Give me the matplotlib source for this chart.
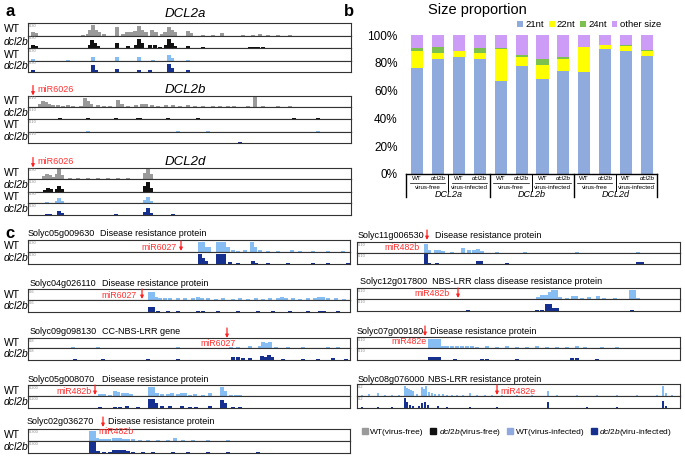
import matplotlib
matplotlib.use('Agg')
import matplotlib.pyplot as plt
from matplotlib.transforms import blended_transform_factory
from matplotlib.patches import Patch, FancyArrowPatch

plt.rcParams['font.family'] = ['Liberation Sans', 'DejaVu Sans']
plt.rcParams['mathtext.fontset'] = 'custom'
plt.rcParams['mathtext.it'] = 'Liberation Sans:italic'
plt.rcParams['mathtext.rm'] = 'Liberation Sans'

# ---------------- datos panel b (proporcion de tamanos, %) ----------------
genes = ['DCL2a', 'DCL2b', 'DCL2d']
genotipos = ['WT', 'dcl2b']
condiciones = ['virus-free', 'virus-infected']
nt21 = [76, 83, 84.5, 82.5, 67, 77.8, 68.7, 74.2, 73.7, 89.8, 88.7, 85]
nt22 = [12.8, 4.4, 3.8, 4.4, 22.7, 6.1, 9.5, 8.8, 17.4, 3, 3.4, 3.5]
nt24 = [2.1, 4.3, 0.4, 3.6, 0.8, 1.7, 4.8, 1.4, 0.4, 0.3, 0.5, 0.7]
otros = [100 - a - b - c for a, b, c in zip(nt21, nt22, nt24)]

# ---------------- datos panel a (cobertura: bin, altura relativa) ----------------
a2a_wt_vf = [(5, .3), (8, .2), (55, .1), (60, .15), (62, .5), (65, .9), (68, .5), (71, .3), (76, .15),
             (89, .7), (95, .15), (99, .3), (103, .35), (107, .4), (111, .85), (114, .5), (118, .35),
             (124, .45), (128, .3), (134, .15), (137, .35), (141, .7), (144, .5), (147, .3), (160, .4),
             (163, .2), (175, .1), (185, .1), (194, .2), (215, .08), (225, .1), (232, .12), (240, .1),
             (250, .08), (262, .1)]
a2a_dcl_vf = [(5, .3), (8, .15), (40, .05), (62, .3), (64, .7), (67, .45), (70, .2), (89, .4), (100, .15),
              (108, .3), (111, .8), (114, .4), (122, .3), (127, .3), (132, .1), (138, .3), (141, .8),
              (144, .45), (147, .2), (160, .2), (175, .08), (222, .1), (226, .12), (230, .1), (235, .08)]
a2a_wt_vi = [(5, .15), (40, .05), (65, .3), (89, .3), (111, .35), (125, .1), (141, .45), (144, .2), (160, .1)]
a2a_dcl_vi = [(5, .2), (65, .6), (68, .2), (89, .3), (111, .2), (122, .2), (141, .7), (144, .4), (160, .15)]

a2b_wt_vf = [(12, .3), (15, .6), (18, .45), (21, .3), (25, .2), (30, .2), (35, .15), (40, .2), (45, .15),
             (53, .15), (57, .8), (60, .6), (63, .3), (70, .2), (76, .15), (82, .15), (90, .7), (94, .3),
             (100, .15), (108, .2), (114, .3), (118, .3), (124, .2), (130, .15), (138, .2), (145, .25),
             (152, .15), (160, .2), (167, .15), (175, .1), (185, .15), (192, .1), (200, .15), (206, .1),
             (220, .1), (227, .9), (235, .08), (250, .08), (262, .1), (275, .07)]
a2b_dcl_vf = [(32, .1), (60, .1), (88, .08), (110, .1), (112, .15), (140, .08), (170, .08), (266, .15),
              (290, .08), (300, .06)]
a2b_wt_vi = [(60, .05), (150, .05), (180, .04), (290, .05)]
a2b_dcl_vi = [(30, .05), (120, .05), (180, .05), (212, .1), (220, .05)]

a2d_wt_vf = [(16, .3), (19, .45), (22, .4), (25, .2), (29, .5), (31, .9), (34, .4), (42, .1), (50, .1),
             (60, .08), (70, .1), (80, .12), (90, .08), (100, .1), (110, .07), (117, .6), (120, .95),
             (123, .5), (130, .06), (150, .06), (170, .06)]
a2d_dcl_vf = [(17, .15), (20, .3), (23, .2), (29, .2), (31, .5), (34, .2), (117, .5), (120, .8), (123, .3)]
a2d_wt_vi = [(19, .1), (29, .2), (31, .5), (34, .2), (117, .3), (120, .6), (123, .2)]
a2d_dcl_vi = [(19, .1), (22, .08), (31, .4), (34, .2), (88, .1), (117, .3), (120, .6), (123, .2), (145, .08)]

# ---------------- datos panel c ----------------
c1_wt = [(172, .9), (175, .9), (178, .4), (181, .4), (190, .9), (193, .9), (196, .9), (200, .4), (205, .15),
         (210, .1), (217, .2), (224, .9), (227, .4), (232, .15), (240, .1), (250, .1), (264, .2), (272, .1),
         (285, .1), (300, .08), (315, .08)]
c1_dcl = [(172, .9), (175, .5), (178, .25), (190, .9), (193, .9), (196, .9), (202, .15), (210, .08),
          (225, .25), (228, .1), (240, .08), (260, .08), (285, .08), (300, .06), (320, .06)]
c2_wt = [(122, .8), (125, .8), (128, .25), (132, .2), (137, .2), (142, .15), (150, .15), (157, .15),
         (165, .2), (170, .25), (174, .2), (180, .15), (188, .12), (195, .15), (205, .12), (212, .15),
         (220, .12), (228, .15), (235, .12), (242, .15), (250, .2), (254, .25), (258, .2), (265, .15),
         (272, .12), (280, .15), (287, .2), (291, .25), (295, .25), (300, .2), (308, .15), (316, .12)]
c2_dcl = [(122, .4), (125, .4), (130, .1), (140, .1), (150, .08), (170, .12), (175, .1), (190, .1),
          (210, .12), (230, .08), (245, .12), (262, .1), (280, .08), (292, .12), (296, .12), (310, .08)]
c3_wt = [(45, .12), (70, .08), (150, .08), (203, .15), (210, .15), (222, .2), (232, .2), (235, .6),
         (238, .5), (242, .6), (248, .15), (260, .1), (275, .08), (300, .1), (310, .08)]
c3_dcl = [(47, .08), (75, .06), (120, .06), (150, .08), (205, .25), (210, .25), (215, .2), (222, .2),
          (234, .35), (237, .3), (241, .4), (244, .3), (255, .1), (275, .1), (290, .08), (305, .2), (318, .08)]
c4_wt = [(72, .15), (76, .2), (82, .1), (87, .5), (90, .4), (95, .25), (99, .3), (103, .2), (122, .9),
         (125, .9), (129, .3), (134, .15), (140, .2), (144, .25), (150, .15), (154, .3), (157, .3),
         (162, .12), (167, .15), (175, .1), (182, .25), (194, .9), (197, .5), (203, .1), (208, .1), (212, .1)]
c4_dcl = [(72, .12), (87, .12), (92, .12), (99, .15), (110, .1), (122, .8), (125, .8), (128, .4), (134, .15),
          (142, .15), (154, .2), (162, .1), (168, .12), (182, .2), (194, .7), (197, .4), (205, .1), (212, .08)]
c5_wt = [(63, .9), (66, .9), (69, .3), (73, .2), (77, .2), (81, .15), (86, .25), (89, .3), (92, .3),
         (96, .2), (100, .15), (105, .15), (112, .12), (120, .1), (130, .1), (140, .12), (147, .3),
         (155, .1), (165, .08), (180, .08), (200, .08)]
c5_dcl = [(63, .95), (66, .95), (70, .15), (76, .1), (82, .12), (86, .25), (89, .3), (92, .3), (96, .25),
          (100, .15), (105, .12), (115, .1), (125, .08), (145, .1), (160, .08), (180, .08), (200, .06), (230, .06)]
c6_wt = [(69, .9), (72, .3), (79, .3), (82, .3), (86, .2), (95, .1), (106, .5), (112, .3), (117, .3),
         (121, .35), (125, .2), (140, .1), (168, .1), (220, .05), (281, .05)]
c6_dcl = [(69, 1.0), (72, .1), (80, .1), (121, .3), (124, .3), (150, .05), (281, .15), (285, .15)]
c7_wt = [(181, .2), (185, .35), (189, .4), (193, .7), (196, .9), (199, .9), (203, .2), (210, .1), (216, .3),
         (219, .3), (225, .1), (232, .15), (241, .3), (247, .1), (258, .1), (274, .9), (277, .9), (281, .1)]
c7_dcl = [(111, .1), (180, .1), (185, .12), (190, .6), (193, .6), (196, .3), (200, .3), (275, .1)]
c8_wt = [(73, .9), (76, .9), (79, .9), (82, .9), (86, .2), (90, .2), (95, .15), (100, .2), (105, .15),
         (110, .2), (115, .15), (120, .12), (130, .15), (140, .12), (150, .15), (160, .12), (170, .1),
         (180, .15), (190, .12), (200, .1), (210, .12), (220, .15), (228, .12), (245, .08), (260, .08)]
c8_dcl = [(73, .3), (76, .3), (79, .3), (82, .25), (98, .1), (125, .08), (130, .1), (160, .08), (215, .15),
          (220, .15), (240, .06)]
c9_wt = [(5, .1), (12, .15), (21, .25), (28, .1), (35, .1), (42, .1), (48, .9), (50, .7), (52, .6), (54, .5),
         (56, .4), (60, .2), (65, .8), (67, .6), (69, .9), (72, .35), (75, .3), (78, .15), (82, .2), (86, .2),
         (90, .12), (95, .1), (100, .12), (106, .1), (113, .3), (120, .1), (128, .12), (135, .1), (145, .08),
         (160, .1), (175, .08), (191, .4), (200, .06), (220, .06), (240, .06), (260, .06), (280, .06),
         (300, .1), (306, .9), (309, .3), (315, .08)]
c9_dcl = [(5, .05), (21, .08), (35, .06), (48, .9), (50, .5), (53, .3), (56, .2), (62, .2), (65, .4), (68, .5),
          (71, .3), (81, .2), (90, .08), (113, .1), (140, .06), (191, .5), (230, .05), (260, .05), (306, .6),
          (309, .2)]

gris, negro, celeste, azul = '#9a9a9a', '#111111', '#86bdf2', '#16308f'
W, H = 685, 458
fig = plt.figure(figsize=(W / 100, H / 100), dpi=100)


def caja(x0, y0, x1, y1):
    return fig.add_axes([x0 / W, 1 - y1 / H, (x1 - x0) / W, (y1 - y0) / H])


def texto(x, y, s, **kw):
    kw.setdefault('va', 'center')
    fig.text(x / W, 1 - y / H, s, **kw)


def pista(x0, y0, x1, y1, picos, color, escala, ancho=3.6):
    ax = caja(x0, y0, x1, y1)
    ax.bar([p for p, h in picos], [h for p, h in picos], width=ancho, color=color, linewidth=0)
    ax.set_xlim(0, x1 - x0)
    ax.set_ylim(0, 1.05)
    ax.set_xticks([])
    ax.set_yticks([])
    for s in ax.spines.values():
        s.set_linewidth(0.8)
        s.set_color('#333333')
    ax.text(0.004, 0.95, escala, transform=ax.transAxes, fontsize=2.8, color='#888888', va='top')
    return ax


def flecha(x, y, largo=10):
    fig.add_artist(FancyArrowPatch((x / W, 1 - (y - largo / 2) / H), (x / W, 1 - (y + largo / 2) / H),
                                   transform=fig.transFigure, arrowstyle='-|>', mutation_scale=4.5,
                                   color='#ff2020', lw=0.9, shrinkA=0, shrinkB=0))


# ---------------- panel a ----------------
texto(5, 12, 'a', fontsize=12, fontweight='bold')
bloques_a = [
    ('DCL2a', [23.3, 35.7, 48.3, 60.7, 71.7], [a2a_wt_vf, a2a_dcl_vf, a2a_wt_vi, a2a_dcl_vi], '0-30', 14),
    ('DCL2b', [95.7, 107.3, 119.3, 131.7, 143.3], [a2b_wt_vf, a2b_dcl_vf, a2b_wt_vi, a2b_dcl_vi], '0-10', 90),
    ('DCL2d', [167.7, 179.3, 191.7, 203.3, 215], [a2d_wt_vf, a2d_dcl_vf, a2d_wt_vi, a2d_dcl_vi], '0-30', 162),
]
colores = [gris, negro, celeste, azul]
for nombre, filas, datos, esc, yt in bloques_a:
    texto(185, yt, nombre, fontsize=9.5, style='italic', ha='center')
    for k in range(4):
        pista(28, filas[k], 351, filas[k + 1], datos[k], colores[k], esc)
        texto(4, (filas[k] + filas[k + 1]) / 2, genotipos[k % 2], fontsize=7.5,
              style='italic' if k % 2 else 'normal')
    if nombre != 'DCL2a':
        flecha(33, yt + 0.5)
        texto(37, yt, 'miR6026', fontsize=6.5, color='#ff3030')

# ---------------- panel b ----------------
texto(344, 12, 'b', fontsize=12, fontweight='bold')
texto(477, 10, 'Size proportion', fontsize=10.5, ha='center')
axb = caja(406, 35, 657, 174)
x = list(range(len(nt21)))
c21, c22, c24, cot = '#8faadc', '#ffff00', '#7cc150', '#cc9cf7'
ancho = 0.58
axb.bar(x, nt21, ancho, color=c21, label='21nt')
fondo = nt21
axb.bar(x, nt22, ancho, bottom=fondo, color=c22, label='22nt')
fondo = [a + b for a, b in zip(fondo, nt22)]
axb.bar(x, nt24, ancho, bottom=fondo, color=c24, label='24nt')
fondo = [a + b for a, b in zip(fondo, nt24)]
axb.bar(x, otros, ancho, bottom=fondo, color=cot, label='other size')
axb.set_xlim(-0.53, 11.48)
axb.set_ylim(0, 100)
axb.set_yticks(range(0, 101, 20))
axb.set_yticklabels([f'{v}%' for v in range(0, 101, 20)], fontsize=8.5)
axb.tick_params(axis='y', length=0, pad=6)
axb.set_xticks([])
for s in ['top', 'right', 'left']:
    axb.spines[s].set_visible(False)
axb.spines['bottom'].set_linewidth(1.0)
tr = blended_transform_factory(axb.transData, axb.transAxes)
for i in x:
    axb.text(i, -0.035, genotipos[i % 2], transform=tr, fontsize=4.5, ha='center', va='center',
             style='italic' if i % 2 else 'normal')
for k in range(6):
    axb.plot([2 * k - 0.35, 2 * k + 1.35], [-0.062, -0.062], transform=tr, clip_on=False, color='k', lw=0.5)
    axb.text(2 * k + 0.5, -0.094, condiciones[k % 2], transform=tr, fontsize=4.5, ha='center', va='center')
for g in range(3):
    axb.text(4 * g + 1.5, -0.148, genes[g], transform=tr, fontsize=6.5, style='italic', ha='center', va='center')
for xs in [-0.53, 3.5, 7.5, 11.48]:
    axb.plot([xs, xs], [0, -0.165], transform=tr, clip_on=False, color='k', lw=1.0)
for xs in [1.5, 5.5, 9.5]:
    axb.plot([xs, xs], [0, -0.12], transform=tr, clip_on=False, color='k', lw=0.7)
axb.legend(loc='center', bbox_to_anchor=(0.73, 1.075), ncol=4, frameon=False, fontsize=6.8,
           handlelength=0.6, handleheight=0.6, handletextpad=0.25, columnspacing=0.5)

# ---------------- panel c ----------------
texto(5, 233, 'c', fontsize=12, fontweight='bold')
pistas_c = [
    (28, 350, [240, 252, 264], c1_wt, c1_dcl, '0-30', 3.6),
    (28, 350, [289, 300, 312], c2_wt, c2_dcl, '0-6', 3.6),
    (28, 350, [338, 348, 360], c3_wt, c3_dcl, '0-8', 3.6),
    (28, 350, [385, 396, 408], c4_wt, c4_dcl, '0-200', 3.6),
    (28, 350, [429, 441, 453], c5_wt, c5_dcl, '0-300', 3.6),
    (357, 680, [242, 253, 264], c6_wt, c6_dcl, '0-10', 3.6),
    (357, 680, [288, 299, 311], c7_wt, c7_dcl, '0-10', 3.6),
    (357, 680, [337, 348, 360], c8_wt, c8_dcl, '0-10', 3.6),
    (357, 680, [384, 396, 408], c9_wt, c9_dcl, '0-2', 2.0),
]
for x0, x1, filas, wt, dcl, esc, bw in pistas_c:
    pista(x0, filas[0], x1, filas[1], wt, celeste, esc, bw)
    pista(x0, filas[1], x1, filas[2], dcl, azul, esc, bw)
    if x0 < 100:
        texto(4, (filas[0] + filas[1]) / 2, 'WT', fontsize=7.5)
        texto(4, (filas[1] + filas[2]) / 2, 'dcl2b', fontsize=7.5, style='italic')

ft = 6.5
rojo = '#ff3030'
# columna izquierda
texto(28, 233, 'Solyc05g009630', fontsize=ft)
texto(100, 233, 'Disease resistance protein', fontsize=ft)
texto(177, 247, 'miR6027', fontsize=6.3, color=rojo, ha='right')
flecha(181, 246)
texto(30, 283, 'Solyc04g026110', fontsize=ft)
texto(102, 283, 'Disease resistance protein', fontsize=ft)
texto(137, 295, 'miR6027', fontsize=6.3, color=rojo, ha='right')
flecha(142, 294)
texto(30, 331, 'Solyc09g098130', fontsize=ft)
texto(102, 331, 'CC-NBS-LRR gene', fontsize=ft)
flecha(227, 333)
texto(218, 343, 'miR6027', fontsize=6.3, color=rojo, ha='center')
texto(28, 379, 'Solyc05g008070', fontsize=ft)
texto(102, 379, 'Disease resistance protein', fontsize=ft)
texto(92, 391, 'miR482b', fontsize=6.3, color=rojo, ha='right')
flecha(95, 390)
texto(27, 422, 'Solyc02g036270', fontsize=ft)
flecha(103, 422)
texto(108, 422, 'Disease resistance protein', fontsize=ft)
texto(98, 432, 'miR482b', fontsize=6.3, color=rojo)
# columna derecha
texto(358, 235, 'Solyc11g006530', fontsize=ft)
flecha(427, 235)
texto(435, 235, 'Disease resistance protein', fontsize=ft)
texto(420, 247, 'miR482b', fontsize=6.3, color=rojo, ha='right')
texto(360, 282, 'Solyc12g017800  NBS-LRR class disease resistance protein', fontsize=ft)
texto(450, 294, 'miR482b', fontsize=6.3, color=rojo, ha='right')
flecha(458, 293)
texto(357, 331, 'Solyc07g009180', fontsize=ft)
flecha(425, 331)
texto(430, 331, 'Disease resistance protein', fontsize=ft)
texto(427, 342, 'miR482e', fontsize=6.3, color=rojo, ha='right')
texto(358, 379, 'Solyc08g076000', fontsize=ft)
texto(428, 379, 'NBS-LRR resistance protein', fontsize=ft)
flecha(497, 390)
texto(500, 391, 'miR482e', fontsize=6.3, color=rojo)

etiquetas = ['WT(virus-free)', r'$\it{dcl2b}$(virus-free)', 'WT(virus-infected)', r'$\it{dcl2b}$(viru-infected)']
manijas = [Patch(color=c) for c in [gris, negro, '#8fa9df', azul]]
fig.legend(manijas, etiquetas, loc='center', bbox_to_anchor=(517 / W, 1 - 432 / H), ncol=4, frameon=False,
           fontsize=6, handlelength=0.7, handleheight=0.7, handletextpad=0.3, columnspacing=0.8)

fig.savefig('out.png', dpi=100)
